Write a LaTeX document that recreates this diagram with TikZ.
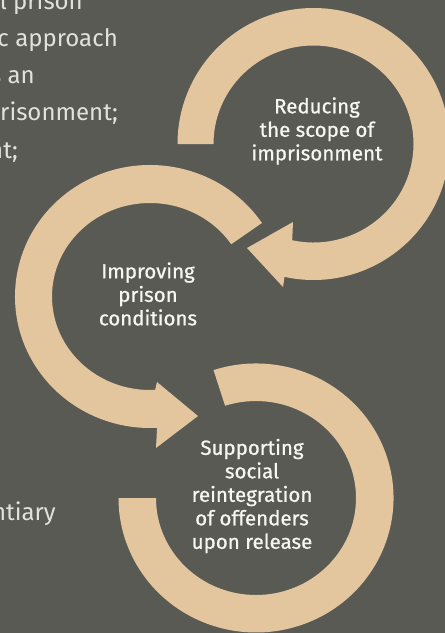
\documentclass[tikz,border=0pt]{standalone}
\usepackage{fontspec}
\setmainfont{Fira Sans}
\newfontfamily\lblfont{Fira Sans}[FakeBold=0.7]
\usetikzlibrary{calc}
\definecolor{bg}{HTML}{5A5A55}
\definecolor{tanc}{HTML}{E3C69E}
\definecolor{lbl}{HTML}{F7F7F2}
\definecolor{side}{HTML}{E2E2DC}
\begin{document}
\begin{tikzpicture}[x=1pt,y=1pt,
  ring/.style={fill=tanc},
  label/.style={text=lbl, align=center, font=\lblfont\fontsize{20.5}{23.5}\selectfont, inner sep=0pt},
  sidetext/.style={text=side, anchor=base east, font=\fontsize{24}{28}\selectfont, inner sep=0pt}]
\fill[bg] (0,0) rectangle (445,-633);
\useasboundingbox (0,0) rectangle (445,-633);
\clip (0,0) rectangle (445,-633);

% top ring
\coordinate (c1) at (313.5,-144);
\fill[ring] ($(c1)+(180:136)$) arc[start angle=180,end angle=-102.3,radius=136]
  -- (283,-287) -- (247,-248) -- (293,-222)
  -- ($(c1)+(-102.3:100 and 98.5)$) arc[start angle=-102.3,end angle=180,x radius=100,y radius=98.5] -- cycle;

% middle ring
\coordinate (c2) at (150,-296.5);
\fill[ring] ($(c2)+(34:135 and 131.5)$) arc[start angle=34,end angle=273,x radius=135,y radius=131.5]
  -- (156,-448) -- (198,-416) -- (157,-382)
  -- ($(c2)+(273:98 and 93.5)$) arc[start angle=273,end angle=34,x radius=98,y radius=93.5] -- cycle;

% bottom ring
\coordinate (c3) at (256,-498);
\fill[ring] ($(c3)+(108:137.5 and 134.5)$) arc[start angle=108,end angle=-180,x radius=137.5,y radius=134.5]
  -- ($(c3)+(180:100 and 97)$) arc[start angle=-180,end angle=108,x radius=100,y radius=97] -- cycle;

% labels
\node[label] (reduce) at (317,-131) {Reducing\\the scope of\\imprisonment};
\node[label] (improve) at (148,-294) {Improving\\prison\\conditions};
\node[label] (support) at (252,-496) {Supporting\\social\\reintegration\\of offenders\\upon release};

% cropped side text
\node[sidetext] (s1) at (83,-9) {l prison};
\node[sidetext] (s2) at (118,-46) {c approach};
\node[sidetext] (s3) at (35,-83) {s an};
\node[sidetext] (s4) at (118,-120) {risonment;};
\node[sidetext] (s5) at (18,-158) {nt;};
\node[sidetext] (s6) at (56,-520) {ntiary};
\end{tikzpicture}
\end{document}
